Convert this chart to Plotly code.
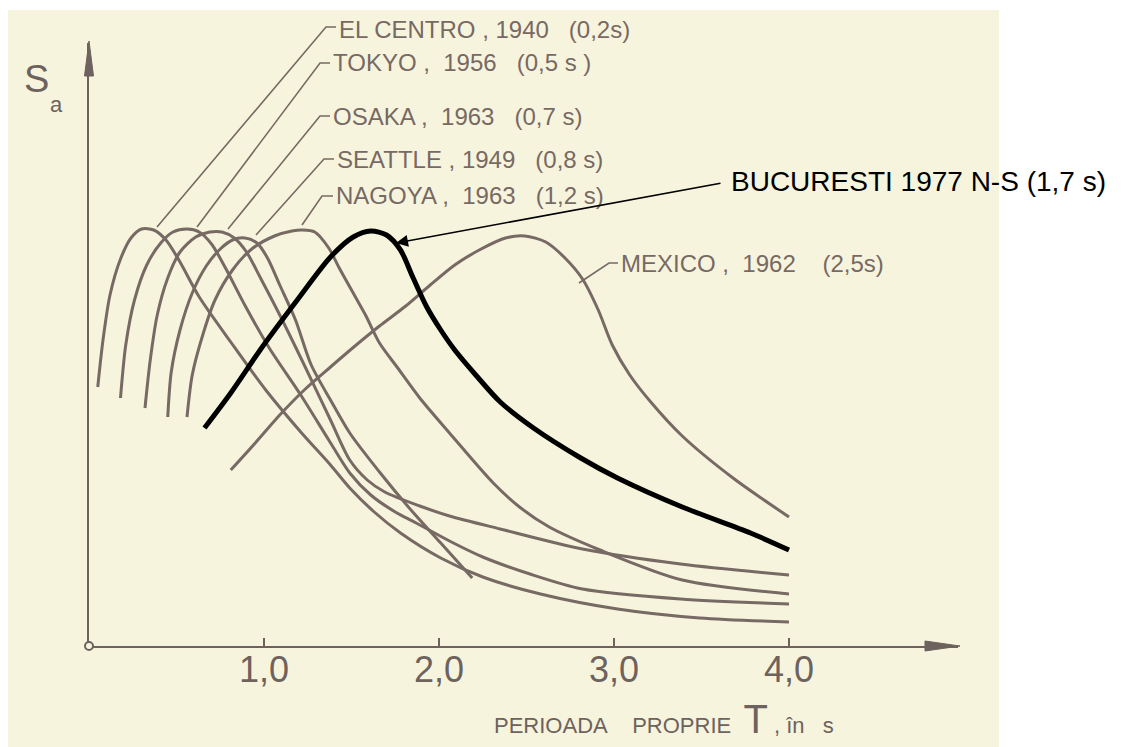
import plotly.graph_objects as go

# ---------------- data (T in s, Sa in relative units) ----------------
elcentro_T = [0.05,0.08,0.12,0.18,0.24,0.30,0.37,0.44,0.52,0.63,0.81,1.01,1.21,1.38,1.49,1.63,1.78,2.01,2.25,2.58,3.02,3.49,4.0]
elcentro_S = [2.59,3.06,3.51,3.87,4.08,4.17,4.16,4.06,3.84,3.49,3.04,2.56,2.14,1.81,1.58,1.34,1.13,0.88,0.69,0.52,0.37,0.28,0.24]

tokyo_T = [0.18,0.21,0.26,0.33,0.41,0.48,0.56,0.63,0.70,0.78,0.89,1.03,1.21,1.37,1.49,1.61,1.75,1.87,2.06,2.25,2.52,2.82,3.38,4.0]
tokyo_S = [2.48,3.01,3.46,3.81,4.03,4.14,4.17,4.14,4.02,3.78,3.41,2.98,2.51,2.06,1.73,1.51,1.34,1.23,1.05,0.89,0.72,0.57,0.47,0.42]

osaka_T = [0.32,0.35,0.39,0.45,0.52,0.61,0.69,0.76,0.83,0.90,0.98,1.09,1.23,1.38,1.49,1.59,1.69,1.89,2.06,2.35,2.82,3.38,4.0]
osaka_S = [2.38,2.86,3.31,3.68,3.94,4.09,4.14,4.14,4.08,3.94,3.68,3.31,2.81,2.26,1.86,1.66,1.54,1.40,1.30,1.17,0.97,0.82,0.71]

seattle_T = [0.45,0.47,0.52,0.59,0.67,0.75,0.82,0.89,0.96,1.02,1.09,1.18,1.27,1.38,1.49,1.66,1.83,2.01,2.19]
seattle_S = [2.29,2.74,3.16,3.53,3.80,3.97,4.06,4.08,4.03,3.88,3.61,3.26,2.81,2.46,2.13,1.74,1.38,1.03,0.68]

nagoya_T = [0.56,0.59,0.65,0.72,0.82,0.93,1.06,1.16,1.22,1.29,1.37,1.43,1.50,1.58,1.66,1.76,1.89,2.06,2.31,2.46,2.63,2.92,3.39,4.0]
nagoya_S = [2.29,2.71,3.11,3.46,3.76,3.97,4.10,4.15,4.16,4.14,3.98,3.78,3.56,3.31,3.03,2.79,2.48,2.13,1.63,1.39,1.19,0.96,0.66,0.52]

mexico_T = [0.81,0.95,1.09,1.23,1.38,1.52,1.66,1.81,1.95,2.09,2.23,2.38,2.49,2.61,2.72,2.82,2.91,2.99,3.09,3.21,3.39,3.68,4.0]
mexico_S = [1.76,2.03,2.31,2.56,2.79,3.00,3.20,3.40,3.61,3.81,3.96,4.08,4.10,4.04,3.88,3.67,3.36,3.01,2.71,2.44,2.10,1.68,1.29]

bucuresti_T = [0.66,0.81,0.99,1.19,1.38,1.51,1.61,1.70,1.78,1.85,1.93,2.01,2.09,2.21,2.35,2.54,2.81,3.02,3.39,3.78,4.0]
bucuresti_S = [2.18,2.53,2.99,3.46,3.89,4.09,4.15,4.11,3.96,3.69,3.39,3.16,2.96,2.71,2.44,2.18,1.88,1.68,1.39,1.13,0.96]

tick_vals = [1, 2, 3, 4]
tick_text = ["1,0", "2,0", "3,0", "4,0"]

label_texts = [
    "EL CENTRO , 1940&nbsp;&nbsp;&nbsp;(0,2s)",
    "TOKYO ,&nbsp;&nbsp;1956&nbsp;&nbsp;&nbsp;(0,5 s )",
    "OSAKA ,&nbsp;&nbsp;1963&nbsp;&nbsp;&nbsp;(0,7 s)",
    "SEATTLE , 1949&nbsp;&nbsp;&nbsp;(0,8 s)",
    "NAGOYA ,&nbsp;&nbsp;1963&nbsp;&nbsp;&nbsp;(1,2 s)",
    "MEXICO ,&nbsp;&nbsp;1962&nbsp;&nbsp;&nbsp;&nbsp;(2,5s)",
]
buc_text = "BUCURESTI 1977 N-S (1,7 s)"

# ---------------- styling / layout helpers ----------------
# The page body has an 8px margin, so the figure is drawn 8px smaller and
# everything is positioned in page pixels through px()/py().
OFF = 8
W, H = 1122 - OFF, 747 - OFF
L, R, T, B = 89, 958, 43, 646          # plot area in page pixels
GRAY = "#776963"
INK = "#6d625d"
CREAM = "#f7f4de"
SANS = "Liberation Sans, Arial, sans-serif"

def px(x):
    return (x - L) / (R - L)

def py(y):
    return (B - y) / (B - T)

fig = go.Figure()

for tx, sy in [(elcentro_T, elcentro_S), (tokyo_T, tokyo_S), (osaka_T, osaka_S),
               (seattle_T, seattle_S), (nagoya_T, nagoya_S), (mexico_T, mexico_S)]:
    fig.add_trace(go.Scatter(x=tx, y=sy, mode="lines",
                             line=dict(color=GRAY, width=3, shape="spline", smoothing=0.8),
                             hoverinfo="skip", showlegend=False))

fig.add_trace(go.Scatter(x=bucuresti_T, y=bucuresti_S, mode="lines",
                         line=dict(color="black", width=5, shape="spline", smoothing=0.8),
                         hoverinfo="skip", showlegend=False))

shapes = []
# scanned-paper background
shapes.append(dict(type="rect", xref="paper", yref="paper",
                   x0=px(0), x1=px(999), y0=py(760), y1=py(10),
                   fillcolor=CREAM, line=dict(width=0), layer="below"))
# axis arrowheads
shapes.append(dict(type="path", xref="paper", yref="paper",
                   path=f"M {px(89)} {py(41)} L {px(84.5)} {py(76)} L {px(93.5)} {py(76)} Z",
                   fillcolor=INK, line=dict(color=INK, width=1)))
shapes.append(dict(type="path", xref="paper", yref="paper",
                   path=f"M {px(960)} {py(646)} L {px(925)} {py(641)} L {px(925)} {py(651)} Z",
                   fillcolor=INK, line=dict(color=INK, width=1)))
# origin circle
shapes.append(dict(type="circle", xref="paper", yref="paper",
                   x0=px(85), x1=px(93), y0=py(650), y1=py(642),
                   fillcolor=CREAM, line=dict(color=INK, width=2)))

# leader lines: (arch point, bend point, dash end) in page pixels
leaders = [
    ((157, 227), (326, 27), (336, 27)),
    ((197, 227), (320, 63), (330, 63)),
    ((228, 229), (320, 116), (330, 116)),
    ((256, 235), (324, 159), (334, 159)),
    ((302, 225), (322, 196), (333, 196)),
    ((579, 283), (609, 263), (618, 263)),
]
for (a, b, c) in leaders:
    shapes.append(dict(type="path", xref="paper", yref="paper",
                       path=f"M {px(a[0])} {py(a[1])} L {px(b[0])} {py(b[1])} L {px(c[0])} {py(c[1])}",
                       line=dict(color=GRAY, width=1.6)))

annotations = []
label_pos = [(337, 29), (331, 63), (331, 116), (335, 159), (334, 196), (619, 263)]
for txt, (x, y) in zip(label_texts, label_pos):
    annotations.append(dict(xref="paper", yref="paper", x=px(x), y=py(y),
                            xanchor="left", yanchor="middle", showarrow=False,
                            text=txt, font=dict(family=SANS, size=24, color=GRAY)))

# S_a axis label
annotations.append(dict(xref="paper", yref="paper", x=px(36), y=py(79), showarrow=False,
                        xanchor="center", yanchor="middle", text="S",
                        font=dict(family=SANS, size=38, color=INK)))
annotations.append(dict(xref="paper", yref="paper", x=px(56), y=py(104), showarrow=False,
                        xanchor="center", yanchor="middle", text="a",
                        font=dict(family=SANS, size=22, color=INK)))

# x axis title
annotations.append(dict(xref="paper", yref="paper", x=px(492), y=py(719), showarrow=False,
                        xanchor="left", yanchor="middle",
                        text="PERIOADA&nbsp;&nbsp;&nbsp;&nbsp;PROPRIE&nbsp; <span style='font-size:40px'>T</span> , în&nbsp;&nbsp; s",
                        font=dict(family=SANS, size=22, color=INK)))

# BUCURESTI label and arrow
annotations.append(dict(xref="paper", yref="paper", x=px(729), y=py(182), showarrow=False,
                        xanchor="left", yanchor="middle", text=buc_text,
                        font=dict(family=SANS, size=28, color="black")))
annotations.append(dict(xref="paper", yref="paper", x=px(396), y=py(243),
                        ax=722 - 396, ay=183 - 243, axref="pixel", ayref="pixel",
                        text="", showarrow=True, arrowhead=2, arrowsize=1.6,
                        arrowwidth=1.5, arrowcolor="black"))

fig.update_layout(
    width=W, height=H,
    margin=dict(l=L - OFF, r=(W + OFF) - R, t=T - OFF, b=(H + OFF) - B, pad=0),
    paper_bgcolor="white", plot_bgcolor="rgba(0,0,0,0)",
    shapes=shapes, annotations=annotations, showlegend=False,
    xaxis=dict(range=[0, (R - L) / 175.0], showgrid=False, zeroline=False,
               showline=True, linecolor=INK, linewidth=2,
               ticks="inside", ticklen=8, tickwidth=2, tickcolor=INK,
               tickvals=tick_vals, ticktext=tick_text, ticklabelstandoff=-9,
               tickfont=dict(family=SANS, size=36, color=INK)),
    yaxis=dict(range=[0, (B - T) / 100.0], showgrid=False, zeroline=False,
               showline=True, linecolor=INK, linewidth=2,
               showticklabels=False, ticks=""),
)

fig.write_html("out.html")
